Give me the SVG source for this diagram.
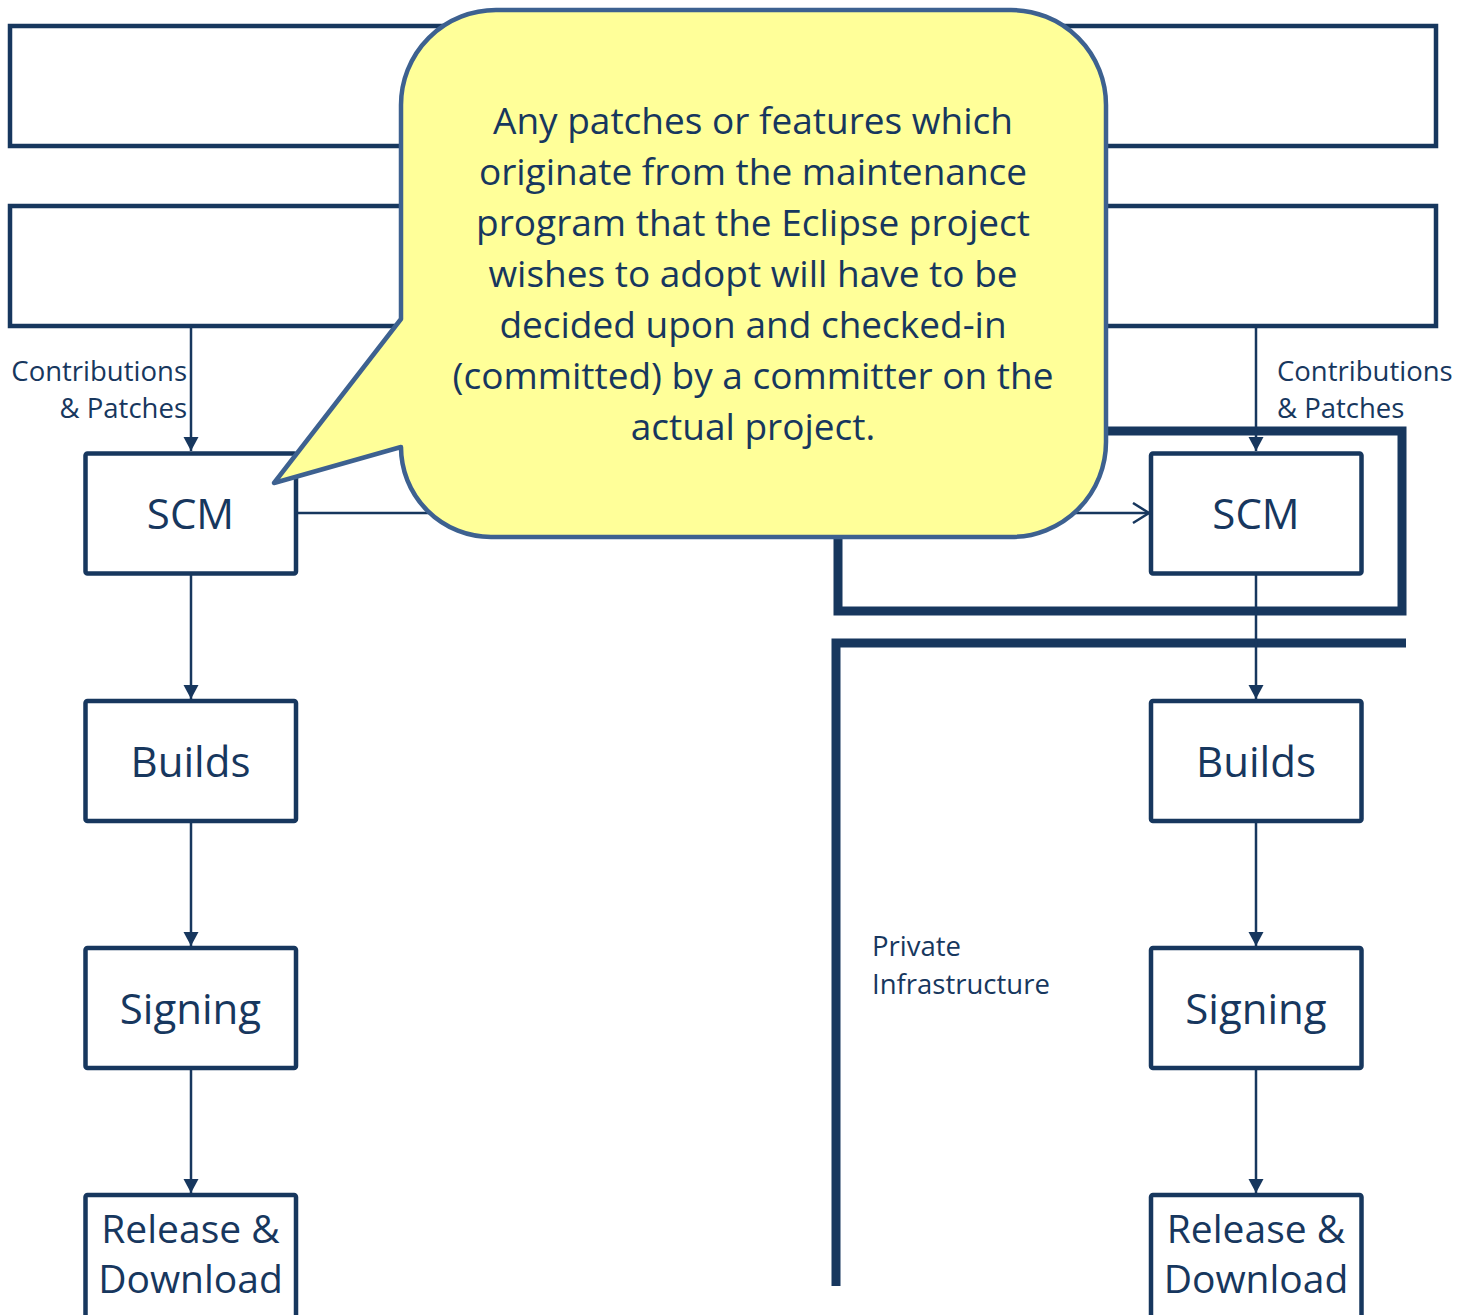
<svg xmlns="http://www.w3.org/2000/svg" width="1462" height="1315" viewBox="0 0 1462 1315">
<style>
.box{fill:#fff;stroke:#17375e;stroke-width:4.5}
.band{fill:none;stroke:#17375e;stroke-width:4.5}
.frame{fill:none;stroke:#17375e;stroke-width:9;stroke-linejoin:miter}
.conn{fill:none;stroke:#17375e;stroke-width:2.5}
.t{font-family:"Open Sans","Noto Sans","Liberation Sans",sans-serif;fill:#17375e}
.big{font-size:42px;text-anchor:middle}
.rel{font-size:39px;text-anchor:middle}
.small{font-size:27.5px}
.call{font-size:37px;text-anchor:middle}
</style>
<defs>
<marker id="tri" markerWidth="16" markerHeight="16" refX="14" refY="7.5" orient="auto" markerUnits="userSpaceOnUse">
<path d="M0,0 L14,7.5 L0,15 Z" fill="#17375e"/>
</marker>
<marker id="open" markerWidth="20" markerHeight="24" refX="17" refY="11" orient="auto" markerUnits="userSpaceOnUse">
<path d="M1,1 L17,11 L1,21" fill="none" stroke="#17375e" stroke-width="2.5"/>
</marker>
</defs>

<g id="band-top">
<rect class="band" x="10" y="26" width="1426" height="120"/>
</g>
<g id="band-second">
<rect class="band" x="10" y="206" width="1426" height="120"/>
</g>

<g id="private-frame-upper">
<rect class="frame" x="838" y="431" width="564" height="180"/>
</g>
<g id="private-frame-lower">
<polyline class="frame" points="1406,643 836,643 836,1286"/>
</g>

<g id="connectors">
<line class="conn" x1="191" y1="326" x2="191" y2="451" marker-end="url(#tri)"/>
<line class="conn" x1="191" y1="575" x2="191" y2="699" marker-end="url(#tri)"/>
<line class="conn" x1="191" y1="823" x2="191" y2="946" marker-end="url(#tri)"/>
<line class="conn" x1="191" y1="1070" x2="191" y2="1193" marker-end="url(#tri)"/>
<line class="conn" x1="1256" y1="326" x2="1256" y2="451" marker-end="url(#tri)"/>
<line class="conn" x1="1256" y1="575" x2="1256" y2="699" marker-end="url(#tri)"/>
<line class="conn" x1="1256" y1="823" x2="1256" y2="946" marker-end="url(#tri)"/>
<line class="conn" x1="1256" y1="1070" x2="1256" y2="1193" marker-end="url(#tri)"/>
<line class="conn" x1="298" y1="513" x2="1149" y2="513" marker-end="url(#open)"/>
</g>

<g id="label-contrib-left">
<text class="t small" x="187" y="381" text-anchor="end">Contributions</text>
<text class="t small" x="187" y="418" text-anchor="end">&amp; Patches</text>
</g>
<g id="label-contrib-right">
<text class="t small" x="1277" y="381">Contributions</text>
<text class="t small" x="1277" y="418">&amp; Patches</text>
</g>
<g id="label-private">
<text class="t small" x="872" y="956">Private</text>
<text class="t small" x="872" y="994">Infrastructure</text>
</g>

<g id="scm-left"><rect class="box" x="85.5" y="453.5" width="210.5" height="120" rx="2"/><text class="t big" x="190.5" y="529">SCM</text></g>
<g id="builds-left"><rect class="box" x="85.5" y="701" width="210.5" height="120" rx="2"/><text class="t big" x="190.5" y="777">Builds</text></g>
<g id="signing-left"><rect class="box" x="85.5" y="948" width="210.5" height="120" rx="2"/><text class="t big" x="190.5" y="1024">Signing</text></g>
<g id="release-left"><rect class="box" x="85.5" y="1195" width="210.5" height="125" rx="2"/><text class="t rel" x="190.5" y="1243">Release &amp;</text><text class="t rel" x="190.5" y="1293">Download</text></g>

<g id="scm-right"><rect class="box" x="1151" y="453.5" width="210.5" height="120" rx="2"/><text class="t big" x="1256" y="529">SCM</text></g>
<g id="builds-right"><rect class="box" x="1151" y="701" width="210.5" height="120" rx="2"/><text class="t big" x="1256" y="777">Builds</text></g>
<g id="signing-right"><rect class="box" x="1151" y="948" width="210.5" height="120" rx="2"/><text class="t big" x="1256" y="1024">Signing</text></g>
<g id="release-right"><rect class="box" x="1151" y="1195" width="210.5" height="125" rx="2"/><text class="t rel" x="1256" y="1243">Release &amp;</text><text class="t rel" x="1256" y="1293">Download</text></g>

<g id="callout">
<path d="M496,10 L1011,10 A95,95 0 0 1 1106,105 L1106,442 A95,95 0 0 1 1011,537 L491,537 A90,90 0 0 1 401,447 L274,483 L401,319 L401,105 A95,95 0 0 1 496,10 Z" fill="#ffff99" stroke="#3d6190" stroke-width="4.5" stroke-linejoin="round"/>
<text class="t call" x="753" y="134">Any patches or features  which</text>
<text class="t call" x="753" y="185">originate from the maintenance</text>
<text class="t call" x="753" y="236">program that the Eclipse project</text>
<text class="t call" x="753" y="287">wishes to adopt will have to be</text>
<text class="t call" x="753" y="338">decided upon and checked-in</text>
<text class="t call" x="753" y="389">(committed) by a committer on the</text>
<text class="t call" x="753" y="440">actual project.</text>
</g>
</svg>
